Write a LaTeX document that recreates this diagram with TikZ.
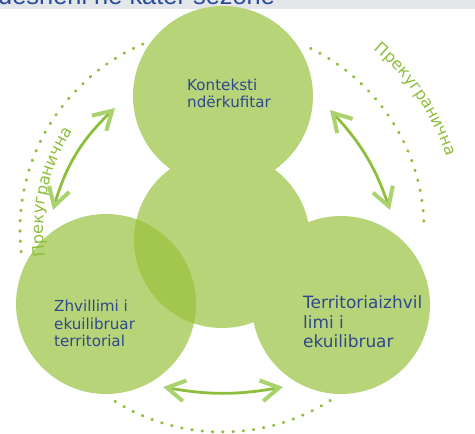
\documentclass[tikz,border=0pt]{standalone}
\usepackage{fontspec}
\setmainfont{DejaVu Sans}
\newfontfamily\headfont{Liberation Sans}
\usetikzlibrary{arrows.meta,decorations.text}
\definecolor{blobgreen}{RGB}{184,212,121}
\definecolor{lensgreen}{RGB}{162,199,76}
\definecolor{linegreen}{RGB}{141,190,60}
\definecolor{tipgreen}{RGB}{170,210,110}
\definecolor{labelblue}{RGB}{47,72,140}
\definecolor{bandgray}{RGB}{228,231,233}
\definecolor{headblue}{RGB}{40,75,160}
\newcommand{\arcfont}{\fontsize{16.2}{19}\selectfont}
\begin{document}
\begin{tikzpicture}[x=1bp,y=1bp,
  blob/.style={circle, fill=blobgreen, inner sep=0},
  dotarc/.style={linegreen, line width=3bp, line cap=round, dash pattern=on 0.6bp off 9.7bp},
  barb/.tip={Straight Barb[length=18bp,width=21bp,line width=4bp,color=tipgreen]},
  link/.style={linegreen, line width=2.8bp, barb-barb},
  lbl/.style={text=labelblue, align=left, inner sep=0, anchor=base west},
  arctext/.style={decorate, decoration={text along path, text={|\arcfont|Прекугранична}, text align=center, text color=linegreen}}
]
\useasboundingbox (0,0) rectangle (475,434);
\begin{scope}
  \clip (0,0) rectangle (475,434);
  \fill[bandgray] (0,424.5) rectangle (475,434);
  \node[anchor=base west, inner sep=0, font=\headfont\fontsize{25.5}{30}\selectfont, text=headblue] (title) at (-2,429.5) {desheni në katër sezone};
\end{scope}
% circles
\node[blob, minimum size=176bp] (mid) at (222,194) {};
\node[blob, minimum size=180bp] (left) at (106,130) {};
\begin{scope}
  \clip (222,194) circle[radius=88];
  \fill[lensgreen] (106,130) circle[radius=90];
\end{scope}
\node[blob, minimum size=180bp] (top) at (223,338) {};
\node[blob, minimum size=178bp] (right) at (341,129) {};
% dotted arcs
\draw[dotarc] (222,204) ++(113:202) arc[start angle=113, end angle=187, radius=202];
\draw[dotarc] (222,204) ++(64:202) arc[start angle=64, end angle=2, radius=202];
\draw[dotarc] (222,204) ++(238:202) arc[start angle=238, end angle=303, radius=202];
% arc texts
\path[arctext] (222,204) ++(197:179) arc[start angle=197, end angle=138, radius=179];
\path[arctext] (222,204) ++(64:236) arc[start angle=64, end angle=4, radius=236];
% arrows
\coordinate (la1) at (53,224);
\coordinate (la2) at (115,326);
\draw[link] (la1) to[bend left=15] (la2);
\coordinate (ra1) at (330,324);
\coordinate (ra2) at (390,224);
\draw[link] (ra1) to[bend left=12] (ra2);
\coordinate (ba1) at (163,47);
\coordinate (ba2) at (283,47);
\draw[link] (ba1) to[bend right=10] (ba2);
% labels (anchor = baseline of the last line)
\node[lbl, font=\fontsize{15.2}{18}\selectfont] (ltop) at (187,326) {Konteksti\\ndërkufitar};
\node[lbl, font=\fontsize{15.2}{17.5}\selectfont] (lleft) at (54,87.5) {Zhvillimi i\\ekuilibruar\\territorial};
\node[lbl, font=\fontsize{17}{19.5}\selectfont] (lright) at (303,86.5) {Territoriaizhvil\\limi i\\ekuilibruar};
\end{tikzpicture}
\end{document}
